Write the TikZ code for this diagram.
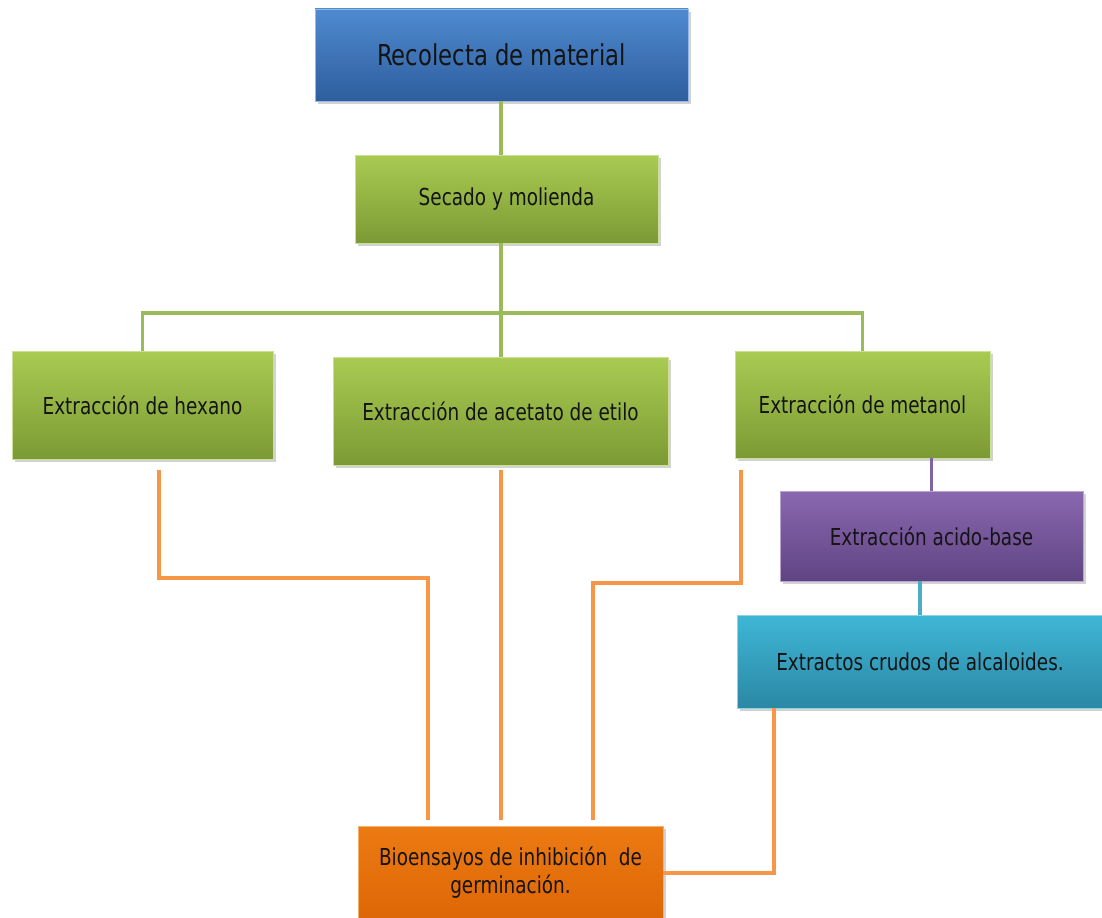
\documentclass[tikz,border=0pt]{standalone}
\usepackage{fontspec}
\setmainfont{DejaVu Sans}[FakeStretch=0.79]
\usetikzlibrary{shadows,calc}
\definecolor{bluetop}{HTML}{4F8AD0}
\definecolor{bluebot}{HTML}{2E5E9E}
\definecolor{greentop}{HTML}{A9CB52}
\definecolor{greenbot}{HTML}{7C9A34}
\definecolor{purptop}{HTML}{8A68B0}
\definecolor{purpbot}{HTML}{5F4483}
\definecolor{tealtop}{HTML}{3FB6D6}
\definecolor{tealbot}{HTML}{2A88A4}
\definecolor{orgtop}{HTML}{EC7A12}
\definecolor{orgbot}{HTML}{DD6706}
\definecolor{gline}{HTML}{9BBB59}
\definecolor{pline}{HTML}{8064A2}
\definecolor{tline}{HTML}{4BACC6}
\definecolor{oline}{HTML}{F79646}
\tikzset{
  boxbase/.style={rectangle, inner sep=0pt, align=center, text=black!92,
    font=\fontsize{17.5}{21}\selectfont,
    drop shadow={opacity=0.35, shadow xshift=2pt, shadow yshift=-2pt}},
  bluebox/.style={boxbase, top color=bluetop, bottom color=bluebot, draw=bluetop!60!white, line width=0.6pt},
  greenbox/.style={boxbase, top color=greentop, bottom color=greenbot, draw=greentop!60!white, line width=0.6pt},
  purpbox/.style={boxbase, top color=purptop, bottom color=purpbot, draw=purptop!60!white, line width=0.6pt},
  tealbox/.style={boxbase, top color=tealtop, bottom color=tealbot, draw=tealtop!60!white, line width=0.6pt},
  orgbox/.style={boxbase, top color=orgtop, bottom color=orgbot, draw=orgtop!60!white, line width=0.6pt},
  gconn/.style={draw=gline, line width=2.8pt},
  pconn/.style={draw=pline, line width=2.8pt},
  tconn/.style={draw=tline, line width=2.8pt},
  oconn/.style={draw=oline, line width=2.8pt, shorten >=4.5pt}
}
\begin{document}
\begin{tikzpicture}[x=0.75pt, y=-0.75pt]
\useasboundingbox (0,0) rectangle (1102,917);
\fill[white] (0,0) rectangle (1102,917);
% nodes
\node[bluebox, minimum width=373*0.75pt, minimum height=92*0.75pt, font=\fontsize{21.6}{26}\selectfont] (rec) at (501.5,55) {Recolecta de material};
\node[greenbox, minimum width=303*0.75pt, minimum height=88*0.75pt] (sec) at (506.5,199) {Secado y molienda};
\node[greenbox, minimum width=261*0.75pt, minimum height=108*0.75pt] (hex) at (142.5,405) {Extracción de hexano};
\node[greenbox, minimum width=335*0.75pt, minimum height=108*0.75pt] (ace) at (500.5,411) {Extracción de acetato de etilo};
\node[greenbox, minimum width=255*0.75pt, minimum height=107*0.75pt] (met) at (862.5,404.5) {Extracción de metanol};
\node[purpbox, minimum width=303*0.75pt, minimum height=90*0.75pt] (acb) at (931.5,536) {Extracción acido-base};
\node[tealbox, minimum width=366*0.75pt, minimum height=93*0.75pt] (alc) at (920,661.5) {Extractos crudos de alcaloides.};
\node[orgbox, minimum width=305*0.75pt, minimum height=94*0.75pt] (bio) at (510.5,873) {Bioensayos de inhibición\ \ de\\germinación.};
% green tree
\coordinate (j) at (501,313);
\draw[gconn] (rec.south -| j) -- (j |- sec.north);
\draw[gconn] (j |- sec.south) -- (j);
\draw[gconn] (j) -| (hex.north);
\draw[gconn] (j) -- (j |- ace.north);
\draw[gconn] (j) -| (met.north);
% purple and teal
\draw[pconn] (acb.north) -- (acb.north |- met.south);
\draw[tconn] (alc.north) -- (alc.north |- acb.south);
% orange connectors
\coordinate (h1) at (159,470);
\coordinate (hb) at (428,578);
\draw[oconn] (h1) |- (hb) -- (hb |- bio.north);
\coordinate (a1) at (501,470);
\draw[oconn] (a1) -- (a1 |- bio.north);
\coordinate (m1) at (741,470);
\coordinate (mb) at (593,583);
\draw[oconn] (m1) |- (mb) -- (mb |- bio.north);
\coordinate (c1) at (774,708);
\draw[oline, line width=2.8pt] (c1) |- (bio.east);
\end{tikzpicture}
\end{document}
